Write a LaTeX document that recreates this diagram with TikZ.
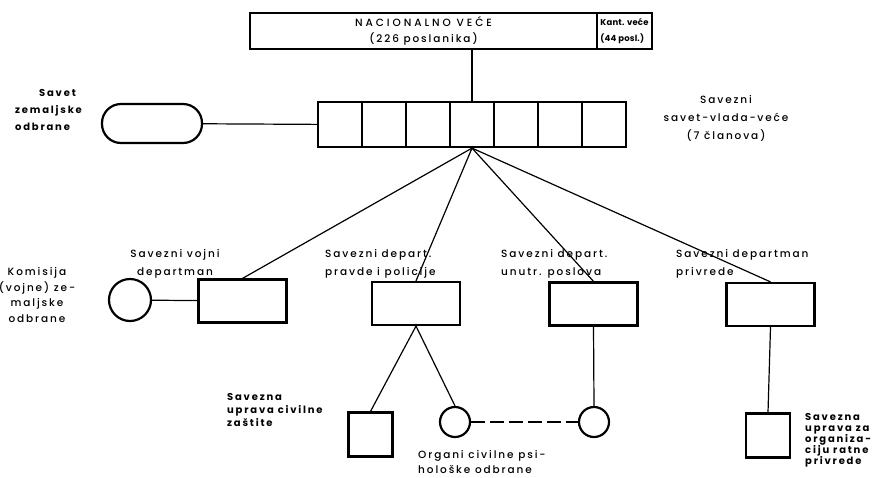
\documentclass[tikz,border=0pt]{standalone}
\usepackage{fontspec}
\setmainfont{Poppins Medium}[LetterSpace=18,BoldFont={Poppins Bold}]
\newfontfamily\capsfont{Poppins Medium}[LetterSpace=28]
\newfontfamily\tightfont{Poppins Medium}[LetterSpace=2,BoldFont={Poppins Bold}]
\begin{document}
\begin{tikzpicture}[x=1pt,y=-1pt,
    box/.style={draw,line width=2.2pt,inner sep=0pt,minimum width=88pt,minimum height=43pt},
    cell/.style={draw,line width=2.2pt,inner sep=0pt,minimum width=44pt,minimum height=45pt},
    rnd/.style={draw,line width=2.2pt,circle,inner sep=0pt,minimum size=30pt},
    sq/.style={draw,line width=2.2pt,inner sep=0pt,minimum size=44pt},
    lbl/.style={inner sep=0pt,align=left,font=\fontsize{10.5}{18}\selectfont},
    blbl/.style={lbl,font=\bfseries\fontsize{10}{17}\selectfont}]
  \useasboundingbox (0,0) rectangle (874,477);
  % parliament
  \node[box,minimum width=347pt,minimum height=36pt,align=center,
        font=\fontsize{10.5}{16}\selectfont] (nac) at (423.5,31)
        {{\capsfont NACIONALNO VEĆE}\\(226 poslanika)};
  \node[box,minimum width=55pt,minimum height=36pt,align=left,
        font=\tightfont\bfseries\fontsize{8.5}{16}\selectfont] (kant) at (624.5,31)
        {Kant. veće\\(44 posl.)};
  % federal council, 7 members
  \foreach \i in {1,...,7}
    \node[cell] (c\i) at ({318+44*\i-22},124.5) {};
  \node[draw,line width=2.2pt,rounded corners=19pt,minimum width=100pt,
        minimum height=39pt] (savet) at (152,123.5) {};
  % departments
  \node[box] (vojni) at (242.5,301) {};
  \node[box] (pravde) at (416,303.5) {};
  \node[box] (unutr) at (593.5,304) {};
  \node[box] (privrede) at (770.5,304.5) {};
  \node[rnd,minimum size=42pt] (komisija) at (130,300) {};
  \node[sq] (civilne) at (370.5,434.5) {};
  \node[rnd] (psi1) at (455,422) {};
  \node[rnd] (psi2) at (594,422) {};
  \node[sq] (ratne) at (768,435.5) {};
  % labels
  \node[inner sep=0pt,anchor=west,font=\bfseries\fontsize{10}{17}\selectfont] (savetl) at (15,110)
    {\begin{tabular}{@{}l@{}}\hspace*{24pt}Savet\\zemaljske\\odbrane\end{tabular}};
  \node[lbl,align=center] (vladal) at (726,118) {Savezni\\savet\,-\,vlada\,-\,veće\\(7 članova)};
  \node[lbl,align=center,font=\fontsize{10.5}{15.5}\selectfont] (komisijal) at (37,295)
    {Komisija\\(vojne) ze-\\maljske\\odbrane};
  \node[lbl,align=center] (vojnil) at (175,264) {Savezni vojni\\departman};
  \node[lbl,anchor=west] (pravdel) at (325,264) {Savezni depart.\\pravde i policije};
  \node[lbl,anchor=west] (unutrl) at (501,264) {Savezni depart.\\unutr. poslova};
  \node[lbl,anchor=west] (privredel) at (676,264) {Savezni departman\\privrede};
  \node[blbl,anchor=west,font=\bfseries\fontsize{10}{13}\selectfont] (civilnel) at (227,410)
    {Savezna\\uprava civilne\\zaštite};
  \node[lbl,anchor=west,font=\fontsize{10.5}{15}\selectfont] (psil) at (418,462)
    {Organi civilne psi-\\hološke odbrane};
  \node[blbl,anchor=west,font=\bfseries\fontsize{10}{11}\selectfont] (ratnel) at (805,440)
    {Savezna\\uprava za\\organiza-\\ciju ratne\\privrede};
  \begin{scope}[line width=1.2pt]
    \draw (c4.north) -- (c4.north |- nac.south);
    \draw (savet) -- (c1);
    \draw (c4.south) -- (vojni.north);
    \draw (c4.south) -- (pravde.north);
    \draw (c4.south) -- (unutr.north);
    \draw (c4.south) -- (privrede.north);
    \draw (komisija) -- (vojni);
    \draw (pravde.south) -- (civilne.north);
    \draw (pravde.south) -- (psi1.north);
    \draw (unutr.south) -- (psi2.north);
    \draw (privrede.south) -- (ratne.north);
    \draw[dash pattern=on 14pt off 5pt] (psi1) -- (psi2);
  \end{scope}
\end{tikzpicture}
\end{document}
